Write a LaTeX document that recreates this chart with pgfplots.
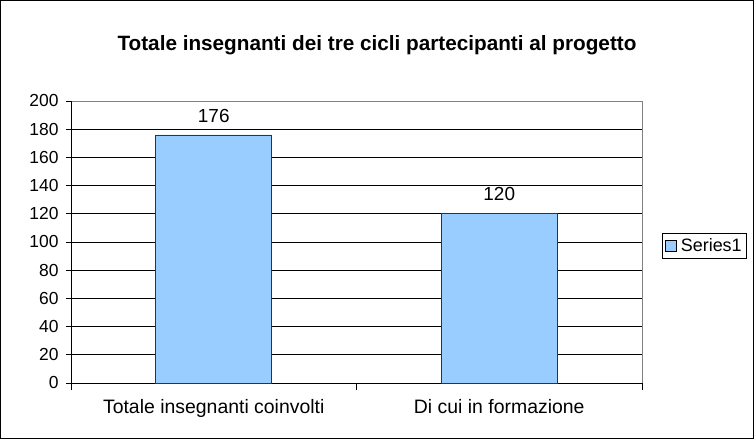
\documentclass[border=0pt]{standalone}
\usepackage{fontspec}
\setmainfont{Liberation Sans}
\usepackage{pgfplots}
\pgfplotsset{compat=1.18}
\definecolor{barblue}{HTML}{99CCFF}
\begin{document}
\begin{tikzpicture}[x=1bp,y=1bp]
\path[use as bounding box] (0,0) rectangle (754,439);
\draw[black,line width=1bp] (0.5,0.5) rectangle (753.5,438.5);
\node[font=\bfseries\fontsize{20.8}{24}\selectfont] at (377,394) {Totale insegnanti dei tre cicli partecipanti al progetto};
\begin{axis}[
  at={(71bp,56bp)}, anchor=south west,
  scale only axis, width=571bp, height=282bp,
  /pgf/number format/assume math mode=true,
  ybar, bar width=116bp,
  xmin=-0.5, xmax=1.5, ymin=0, ymax=200,
  ytick={0,20,...,200},
  xtick={0,1},
  xticklabels={Totale insegnanti coinvolti, Di cui in formazione},
  major x tick style={draw=none},
  minor xtick={-0.5,0.5,1.5},
  xtick pos=bottom, ytick pos=left,
  minor tick length=7bp,
  major tick length=5bp,
  tick align=outside,
  tick style={black, line width=0.6bp},
  ymajorgrids, grid style={black, line width=0.6bp},
  axis line style={draw=none},
  yticklabel style={font=\fontsize{17.5}{20}\selectfont, xshift=-4bp},
  xticklabel style={font=\fontsize{19.5}{22}\selectfont, yshift=-8bp},
  nodes near coords,
  every node near coord/.append style={font=\fontsize{19}{22}\selectfont, yshift=9bp},
  legend style={at={(1.035,0.487)}, anchor=west, draw=black, font=\fontsize{18}{21}\selectfont, inner xsep=3bp, inner ysep=3bp, line width=0.6bp},
  legend image code/.code={\draw[#1,draw=black] (0bp,-5.5bp) rectangle (11bp,5.5bp);},
  clip=false,
]
\draw[gray, line width=0.8bp] (rel axis cs:0,1) -- (rel axis cs:1,1) -- (rel axis cs:1,0);
\draw[black, line width=0.8bp] (rel axis cs:0,1) -- (rel axis cs:0,0) -- (rel axis cs:1,0);
\addplot[fill=barblue, draw=black!80, line width=0.6bp] coordinates {(0,176) (1,120)};
\addlegendentry{\hspace{2bp}Series1}
\end{axis}
\end{tikzpicture}
\end{document}
